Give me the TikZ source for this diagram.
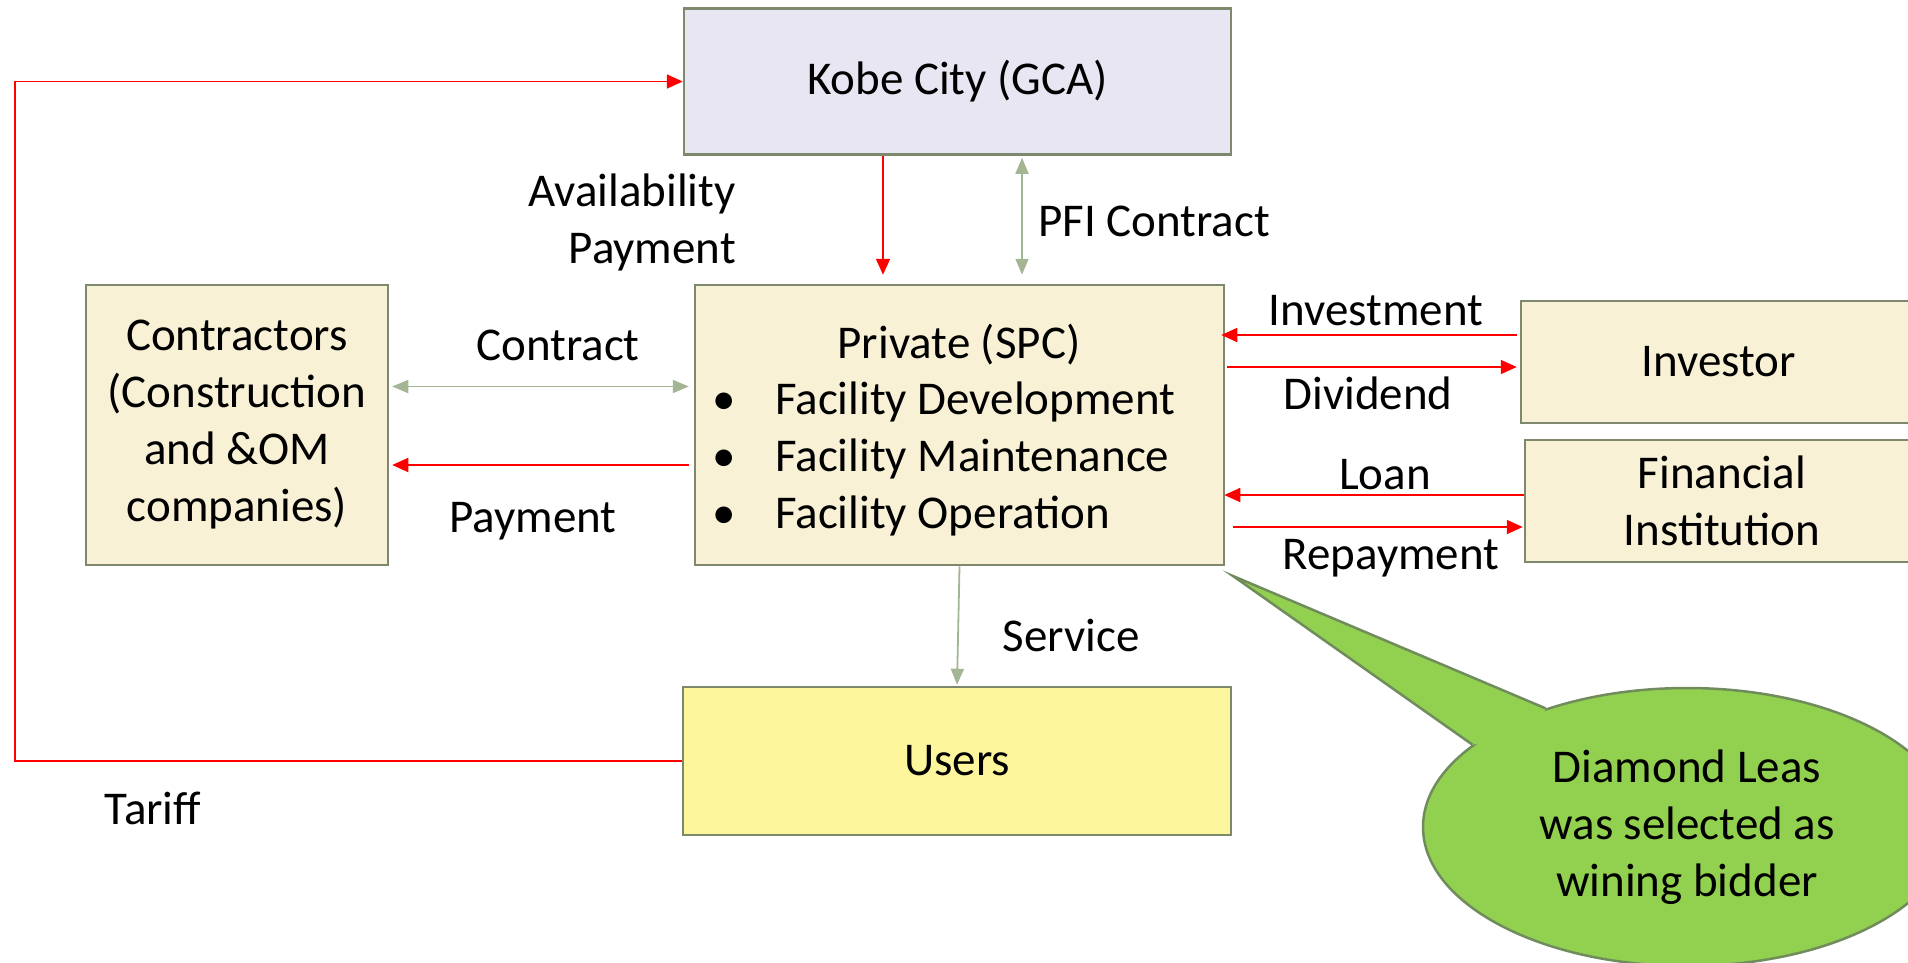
\documentclass[tikz,border=0pt]{standalone}
\usepackage{fontspec}
\setmainfont{Carlito}
\usepackage{xcolor}
\usetikzlibrary{arrows.meta,shapes.geometric,calc}
\definecolor{boxline}{RGB}{125,136,108}
\definecolor{cream}{RGB}{248,241,214}
\definecolor{lavender}{RGB}{232,230,242}
\definecolor{useryellow}{RGB}{254,246,156}
\definecolor{flowgreen}{RGB}{163,181,146}
\definecolor{bubblegreen}{RGB}{146,208,80}
\definecolor{bubbleline}{RGB}{112,140,92}

\begin{document}
\begin{tikzpicture}[x=1pt,y=-1pt,
    font=\fontsize{47}{57}\selectfont,
    box/.style={draw=boxline,line width=2.5pt,fill=cream,inner sep=0pt,align=center},
    money/.style={draw=red,line width=1.8pt,-{Triangle[length=16pt,width=14pt]}},
    deal/.style={draw=flowgreen,line width=1.8pt,-{Triangle[length=16pt,width=13pt]}},
    twoway/.style={draw=flowgreen,line width=1.8pt,{Triangle[length=16pt,width=13pt]}-{Triangle[length=16pt,width=13pt]}},
    lbl/.style={inner sep=0pt}]
    \useasboundingbox (0,0) rectangle (1908,962);
    \node[box,fill=lavender,minimum width=547pt,minimum height=146pt] (kobe) at (957.5,81.5) {Kobe City (GCA)};
    \node[box,minimum width=529pt,minimum height=280pt] (spc) at (959.5,425) {};
    \node[lbl] (spctitle) at (959,345) {Private (SPC)};
    \node[lbl,anchor=west,align=left] (spclist) at (712,459)
        {\makebox[63pt][l]{\textbullet}Facility Development\\
         \makebox[63pt][l]{\textbullet}Facility Maintenance\\
         \makebox[63pt][l]{\textbullet}Facility Operation};
    \node[box,minimum width=302pt,minimum height=280pt] (contractors) at (237,425)
        {Contractors\\(Construction\\and \&OM\\companies)};
    \node[box,fill=useryellow,minimum width=548pt,minimum height=148pt] (users) at (957,761) {Users};
    \node[box,minimum width=396pt,minimum height=122pt] (investor) at (1719,362) {Investor};
    \node[box,minimum width=394pt,minimum height=122pt] (bank) at (1722,501) {Financial\\Institution};

    \draw[money,shorten >=9pt] (kobe.south -| 883,0) -- (spc.north -| 883,0);
    \draw[twoway,shorten <=2pt,shorten >=9pt] (kobe.south -| 1022,0) -- (spc.north -| 1022,0);
    \node[lbl,anchor=east,align=right] (avail) at (736,222) {Availability\\Payment};
    \node[lbl,anchor=west] (pfi) at (1038,221) {PFI Contract};

    \draw[twoway,shorten <=3pt,shorten >=5pt] (contractors.east |- 0,386.5) -- (spc.west |- 0,386.5);
    \draw[money,shorten <=5pt,shorten >=3pt] (spc.west |- 0,465) -- (contractors.east |- 0,465);
    \node[lbl] (contract) at (558,345) {Contract};
    \node[lbl] (payment) at (533,521) {Payment};

    \draw[money,shorten <=3pt,shorten >=-4pt] (investor.west |- 0,335) -- (spc.east |- 0,335);
    \draw[money,shorten <=2pt,shorten >=3pt] (spc.east |- 0,367) -- (investor.west |- 0,367);
    \draw[money,shorten >=-1pt] (bank.west |- 0,495) -- (spc.east |- 0,495);
    \draw[money,shorten <=8pt,shorten >=1pt] (spc.east |- 0,527) -- (bank.west |- 0,527);
    \node[lbl] (invest) at (1376,311) {Investment};
    \node[lbl] (dividend) at (1368,393) {Dividend};
    \node[lbl] (loan) at (1385,475) {Loan};
    \node[lbl] (repay) at (1391,558) {Repayment};

    \draw[deal,shorten >=1pt] (spc.south) -- (users.north);
    \node[lbl] (service) at (1071,635) {Service};

    \coordinate (loopx) at (15,0);
    \draw[money] (users.west) -- (users.west -| loopx) |- (kobe.west);
    \node[lbl] (tariff) at (153,808) {Tariff};

    \node[ellipse,draw=bubbleline,line width=2.5pt,fill=bubblegreen,minimum width=528pt,minimum height=278pt,inner sep=0pt,align=center] (bubble) at (1687,827)
        {Diamond Leas\\was selected as\\wining bidder};
    \coordinate (bubbletip) at (1233,576);
    \fill[bubblegreen] (bubble.140) -- (bubbletip) -- (bubble.159) -- ($(bubble.150)!0.15!(bubble.center)$) -- cycle;
    \draw[bubbleline,line width=2.5pt,line join=miter] (bubble.140) -- (bubbletip) -- (bubble.159);
\end{tikzpicture}
\end{document}
